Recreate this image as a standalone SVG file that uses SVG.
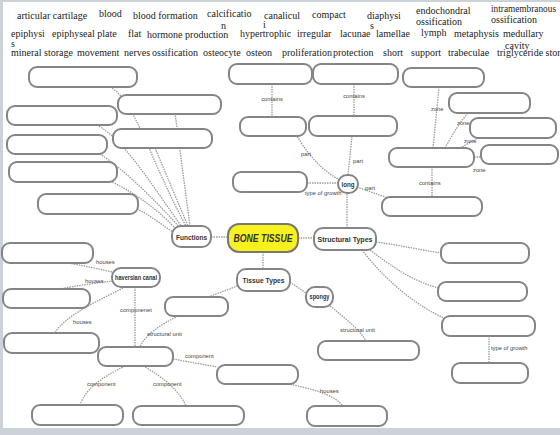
<svg xmlns="http://www.w3.org/2000/svg" width="560" height="435" viewBox="0 0 560 435">
<style>
.bank{font-family:"Liberation Serif","Times New Roman",serif;font-size:10px;fill:#222}
.box{fill:#fff;stroke:#858585;stroke-width:2}
.hub{fill:#fff;stroke:#858585;stroke-width:2}
.main{fill:#f7f21e;stroke:#777;stroke-width:2}
.ht{font-family:"Liberation Sans",Arial,sans-serif;font-weight:bold;fill:#333;text-anchor:middle}
.lbl{font-family:"Liberation Sans",Arial,sans-serif;font-size:5.8px;fill:#444}
.con path{fill:none;stroke:#9c9c9c;stroke-width:1.3;stroke-dasharray:1.5 1}
</style>
<rect x="0" y="0" width="560" height="435" fill="#cdd1d8"/>
<rect x="3" y="2" width="557" height="426" fill="#fff"/>

<g id="wordbank">
<text class="bank" x="17" y="18.5">articular cartilage</text>
<text class="bank" x="99" y="17">blood</text>
<text class="bank" x="133" y="18.5">blood formation</text>
<text class="bank" x="207" y="17">calcificatio</text>
<text class="bank" x="221" y="28.5">n</text>
<text class="bank" x="264" y="18.5">canalicul</text>
<text class="bank" x="263" y="28">i</text>
<text class="bank" x="312" y="18">compact</text>
<text class="bank" x="367" y="19">diaphysi</text>
<text class="bank" x="370" y="29">s</text>
<text class="bank" x="416" y="14">endochondral</text>
<text class="bank" x="416" y="25">ossification</text>
<text class="bank" x="491" y="12" textLength="65" lengthAdjust="spacingAndGlyphs">intramembranous</text>
<text class="bank" x="491" y="23">ossification</text>
<text class="bank" x="11" y="37">epiphysi</text>
<text class="bank" x="11" y="46.5">s</text>
<text class="bank" x="52" y="37">epiphyseal plate</text>
<text class="bank" x="128" y="37">flat</text>
<text class="bank" x="147" y="37.5">hormone production</text>
<text class="bank" x="240" y="36.5">hypertrophic</text>
<text class="bank" x="297" y="37">irregular</text>
<text class="bank" x="340" y="37">lacunae</text>
<text class="bank" x="376" y="37">lamellae</text>
<text class="bank" x="421" y="36">lymph</text>
<text class="bank" x="454" y="37">metaphysis</text>
<text class="bank" x="503" y="37">medullary</text>
<text class="bank" x="505" y="48.5">cavity</text>
<text class="bank" x="11" y="56">mineral storage</text>
<text class="bank" x="77" y="56">movement</text>
<text class="bank" x="124" y="56">nerves</text>
<text class="bank" x="152" y="56">ossification</text>
<text class="bank" x="203" y="56">osteocyte</text>
<text class="bank" x="246" y="56">osteon</text>
<text class="bank" x="282" y="56">proliferation</text>
<text class="bank" x="333" y="56">protection</text>
<text class="bank" x="383" y="56">short</text>
<text class="bank" x="411" y="56">support</text>
<text class="bank" x="448" y="56">trabeculae</text>
<text class="bank" x="497" y="56">triglyceride storage</text>
</g>

<g id="connectors" class="con">
<path d="M110,87 C135,100 150,160 186,226"/>
<path d="M175,113 L190,226"/>
<path d="M97,125 C125,140 155,190 182,227"/>
<path d="M155,148 L188,226"/>
<path d="M100,154 C125,170 160,205 180,228"/>
<path d="M110,181 C140,195 163,215 176,229"/>
<path d="M137,209 C150,215 162,225 173,232"/>
<path d="M211,237 L228,237"/>
<path d="M298,238 L314,238"/>
<path d="M263,252 L263,269"/>
<path d="M347,228 L347,193"/>
<path d="M348,175 L352,136"/>
<path d="M340,180 C320,170 305,150 297,136"/>
<path d="M307,183 L338,183"/>
<path d="M357,187 L388,198"/>
<path d="M272,84 L272,117"/>
<path d="M354,84 L354,116"/>
<path d="M433,148 L439,87"/>
<path d="M445,148 C452,135 460,122 468,113"/>
<path d="M460,148 L478,138"/>
<path d="M474,157 L481,157"/>
<path d="M432,167 L432,197"/>
<path d="M376,242 C400,245 420,250 441,253"/>
<path d="M370,250 C390,265 410,280 438,288"/>
<path d="M362,250 C385,280 415,305 444,318"/>
<path d="M489,336 L489,363"/>
<path d="M290,282 L306,293"/>
<path d="M240,285 L208,297"/>
<path d="M330,306 C345,318 360,330 366,341"/>
<path d="M178,316 C160,325 145,335 140,347"/>
<path d="M135,287 L135,347"/>
<path d="M112,272 C95,268 80,265 68,263"/>
<path d="M113,281 C95,283 75,286 60,289"/>
<path d="M125,287 C100,300 65,315 55,333"/>
<path d="M125,366 C100,378 85,390 80,405"/>
<path d="M143,366 C165,378 180,392 186,406"/>
<path d="M173,359 L217,367"/>
<path d="M288,384 C310,388 335,395 343,406"/>
</g>

<g id="labels">
<text class="lbl" x="272" y="101" text-anchor="middle">contains</text>
<text class="lbl" x="354" y="98" text-anchor="middle">contains</text>
<text class="lbl" x="301" y="156">part</text>
<text class="lbl" x="353" y="163">part</text>
<text class="lbl" x="305" y="195">type of growth</text>
<text class="lbl" x="365" y="190">part</text>
<text class="lbl" x="431" y="111">zone</text>
<text class="lbl" x="457" y="125">zone</text>
<text class="lbl" x="464" y="143">zone</text>
<text class="lbl" x="473" y="172">zone</text>
<text class="lbl" x="419" y="185">contains</text>
<text class="lbl" x="491" y="350">type of growth</text>
<text class="lbl" x="340" y="332">structural unit</text>
<text class="lbl" x="147" y="336">structural unit</text>
<text class="lbl" x="120" y="312">componenet</text>
<text class="lbl" x="96" y="264">houses</text>
<text class="lbl" x="85" y="283">houses</text>
<text class="lbl" x="73" y="324">houses</text>
<text class="lbl" x="87" y="386">component</text>
<text class="lbl" x="153" y="386">component</text>
<text class="lbl" x="185" y="358">component</text>
<text class="lbl" x="320" y="393">houses</text>
</g>

<g id="b1"><rect class="box" x="29" y="67" width="108" height="20" rx="8"/></g>
<g id="b2"><rect class="box" x="118" y="95" width="103" height="19" rx="8"/></g>
<g id="b3"><rect class="box" x="7" y="106" width="110" height="19" rx="8"/></g>
<g id="b4"><rect class="box" x="113" y="129" width="99" height="19" rx="8"/></g>
<g id="b5"><rect class="box" x="7" y="135" width="100" height="19" rx="8"/></g>
<g id="b6"><rect class="box" x="9" y="162" width="108" height="20" rx="8"/></g>
<g id="b7"><rect class="box" x="38" y="194" width="100" height="20" rx="8"/></g>

<g id="t1"><rect class="box" x="229" y="64" width="83" height="20" rx="8"/></g>
<g id="t2"><rect class="box" x="313" y="64" width="85" height="20" rx="8"/></g>
<g id="t3"><rect class="box" x="240" y="117" width="66" height="19" rx="8"/></g>
<g id="t4"><rect class="box" x="309" y="116" width="88" height="20" rx="8"/></g>
<g id="t5"><rect class="box" x="233" y="172" width="74" height="20" rx="8"/></g>
<g id="t6"><rect class="box" x="382" y="197" width="100" height="19" rx="8"/></g>

<g id="r1"><rect class="box" x="403" y="68" width="81" height="19" rx="8"/></g>
<g id="r2"><rect class="box" x="449" y="93" width="81" height="20" rx="8"/></g>
<g id="r3"><rect class="box" x="470" y="118" width="86" height="20" rx="8"/></g>
<g id="r4"><rect class="box" x="389" y="148" width="85" height="19" rx="8"/></g>
<g id="r5"><rect class="box" x="481" y="145" width="77" height="19" rx="8"/></g>

<g id="s1"><rect class="box" x="441" y="243" width="88" height="20" rx="8"/></g>
<g id="s2"><rect class="box" x="438" y="282" width="89" height="19" rx="8"/></g>
<g id="s3"><rect class="box" x="442" y="316" width="93" height="20" rx="8"/></g>
<g id="s4"><rect class="box" x="452" y="363" width="76" height="20" rx="8"/></g>

<g id="tt1"><rect class="box" x="165" y="297" width="63" height="19" rx="8"/></g>
<g id="sp1"><rect class="box" x="318" y="341" width="101" height="19" rx="8"/></g>

<g id="h1"><rect class="box" x="2" y="243" width="91" height="20" rx="8"/></g>
<g id="h2"><rect class="box" x="3" y="289" width="87" height="19" rx="8"/></g>
<g id="h3"><rect class="box" x="4" y="333" width="95" height="20" rx="8"/></g>
<g id="c0"><rect class="box" x="98" y="347" width="75" height="19" rx="8"/></g>
<g id="c1"><rect class="box" x="32" y="405" width="91" height="20" rx="8"/></g>
<g id="c2"><rect class="box" x="133" y="406" width="111" height="19" rx="8"/></g>
<g id="c3"><rect class="box" x="217" y="365" width="81" height="19" rx="8"/></g>
<g id="c4"><rect class="box" x="307" y="406" width="80" height="20" rx="8"/></g>

<g id="functions"><rect class="hub" x="172" y="226" width="39" height="21" rx="9"/><text class="ht" x="191.5" y="240" font-size="8" textLength="31" lengthAdjust="spacingAndGlyphs">Functions</text></g>
<g id="bone-tissue"><rect class="main" x="228" y="224" width="70" height="28" rx="11"/><text class="ht" x="263" y="242" font-size="11" font-style="italic" fill="#222" textLength="59" lengthAdjust="spacingAndGlyphs">BONE TISSUE</text></g>
<g id="structural-types"><rect class="hub" x="314" y="228" width="62" height="22" rx="9"/><text class="ht" x="345" y="242" font-size="8" textLength="55" lengthAdjust="spacingAndGlyphs">Structural Types</text></g>
<g id="tissue-types"><rect class="hub" x="237" y="269" width="53" height="22" rx="9"/><text class="ht" x="263.5" y="283" font-size="8" textLength="42" lengthAdjust="spacingAndGlyphs">Tissue Types</text></g>
<g id="long"><rect class="hub" x="338" y="175" width="20" height="18" rx="9"/><text class="ht" x="348" y="187" font-size="7.5" textLength="13" lengthAdjust="spacingAndGlyphs">long</text></g>
<g id="spongy"><rect class="hub" x="306" y="287" width="27" height="20" rx="9"/><text class="ht" x="319.5" y="299" font-size="6.5" textLength="20" lengthAdjust="spacingAndGlyphs">spongy</text></g>
<g id="haversian-canal"><rect class="hub" x="112" y="268" width="48" height="19" rx="9"/><text class="ht" x="136" y="280" font-size="6.5" textLength="42" lengthAdjust="spacingAndGlyphs">haversian canal</text></g>
</svg>
